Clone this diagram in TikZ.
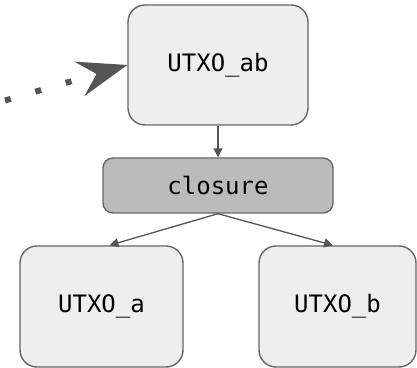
\documentclass[tikz,border=0pt]{standalone}
\usepackage{fontspec}
\setmonofont{DejaVu Sans Mono}
\usepackage{tikz}
\usetikzlibrary{arrows.meta, positioning}
\definecolor{boxfill}{HTML}{EEEEEE}
\definecolor{closefill}{HTML}{BBBBBB}
\definecolor{edge}{HTML}{666666}
\definecolor{link}{HTML}{555555}
\tikzset{
    utxo/.style={rectangle, draw=edge, line width=0.7pt, rounded corners=8.5pt, fill=boxfill, align=center, inner sep=0pt, font=\ttfamily\fontsize{12}{14}\selectfont},
    closurebox/.style={rectangle, draw=edge, line width=0.7pt, rounded corners=5pt, fill=closefill, align=center, inner sep=0pt, minimum width=115pt, minimum height=27.5pt, font=\ttfamily\fontsize{12}{14}\selectfont},
    arrow/.style={draw=link, line width=0.65pt, -{Triangle[length=4.5pt, width=4.5pt]}},
    spend/.style={draw=link, line width=3pt, dash pattern=on 3pt off 12.8pt, -{Stealth[length=25pt, width=18pt, inset=9pt, line width=0pt]}}
}
\begin{document}
\begin{tikzpicture}[x=0.5pt, y=-0.5pt]
        \useasboundingbox (0,0) rectangle (417,368);

        % Combined output on top
        \node[utxo, minimum width=90pt, minimum height=60pt] (utxoab) at (218,65) {UTXO\_ab};

        % Closure in the middle
        \node[closurebox] (closure) at (218,185.5) {closure};

        % The two outputs it splits into
        \node[utxo, minimum width=81.5pt, minimum height=60.5pt] (utxoa) at (101.5,306.5) {UTXO\_a};
        \node[utxo, minimum width=78.5pt, minimum height=60.5pt] (utxob) at (337.5,306.5) {UTXO\_b};

        % Incoming spend from the left
        \coordinate (src) at (5,100.5);
        \draw[spend] (src) -- (utxoab.west);

        % Links
        \draw[arrow] (utxoab.south) -- (closure.north);
        \draw[arrow] (closure.south) -- ([xshift=4pt]utxoa.north);
        \draw[arrow] (closure.south) -- ([xshift=-2.25pt]utxob.north);

    \end{tikzpicture}
\end{document}
